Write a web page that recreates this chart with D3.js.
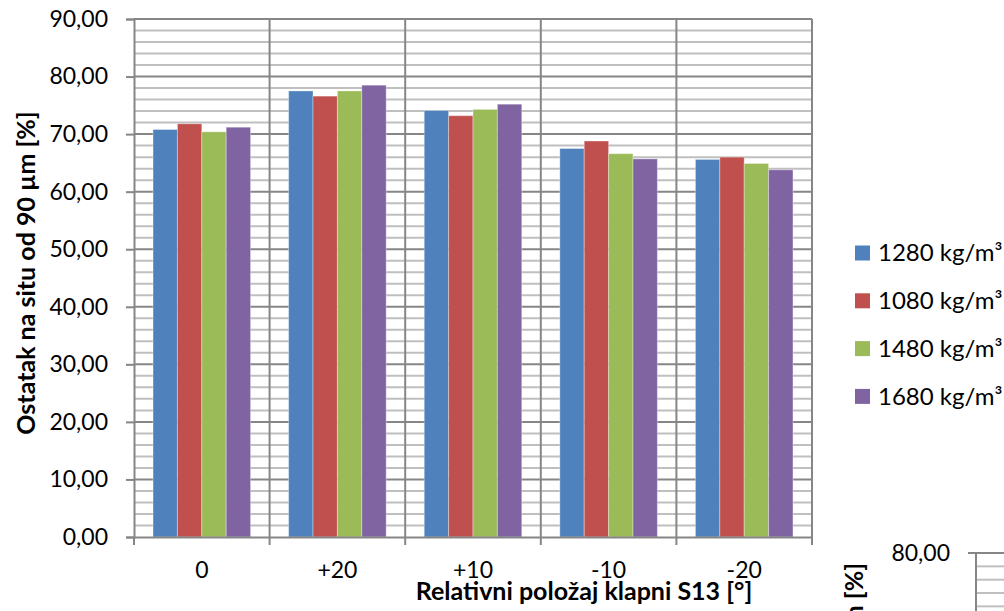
<!DOCTYPE html>
<html>
<head>
<meta charset="utf-8">
<script src="https://cdn.jsdelivr.net/npm/d3@7/dist/d3.min.js"></script>
<style>
  html, body { margin: 0; padding: 0; background: #fff; }
  svg { display: block; font-family: Lato, "Open Sans", sans-serif; }
</style>
</head>
<body>
<svg id="chart" width="1004" height="611"></svg>
<script>
// ---- data ----
const categories = ["0", "+20", "+10", "-10", "-20"];
const seriesNames = ["1280 kg/m³", "1080 kg/m³", "1480 kg/m³", "1680 kg/m³"];
const s1280 = [70.8, 77.5, 74.1, 67.5, 65.6];
const s1080 = [71.8, 76.6, 73.2, 68.8, 66.0];
const s1480 = [70.4, 77.5, 74.3, 66.6, 64.9];
const s1680 = [71.2, 78.5, 75.2, 65.7, 63.8];
const seriesValues = [s1280, s1080, s1480, s1680];
const seriesColors = ["#4f81bd", "#c0504d", "#9bbb59", "#8064a2"];
const yTicks = [0, 10, 20, 30, 40, 50, 60, 70, 80, 90];
const xTitle = "Relativni položaj klapni S13 [°]";
const yTitle = "Ostatak na situ od 90 µm [%]";

const svg = d3.select("#chart");
const fmt = v => d3.format(".2f")(v).replace(".", ",");

const L = 134, R = 812, T = 19, B = 537;
const y = d3.scaleLinear().domain([0, 90]).range([B, T]);
const x0 = d3.scaleBand().domain(categories).range([L, R]).paddingInner(0).paddingOuter(0);
const x1 = d3.scaleBand().domain(seriesNames).range([0, x0.bandwidth()]).paddingInner(0).paddingOuter(0.78);

// minor gridlines
const minor = d3.range(0, 91, 2).filter(v => v % 10 !== 0);
svg.append("g").selectAll("line").data(minor).join("line")
  .attr("x1", L).attr("x2", R)
  .attr("y1", d => y(d)).attr("y2", d => y(d))
  .attr("stroke", "#bfbfbf").attr("stroke-width", 2);

// major gridlines
svg.append("g").selectAll("line").data(yTicks.filter(v => v > 0)).join("line")
  .attr("x1", L).attr("x2", R)
  .attr("y1", d => y(d)).attr("y2", d => y(d))
  .attr("stroke", "#868686").attr("stroke-width", 2);

// vertical gridlines at category boundaries
const bounds = categories.map(c => x0(c)).concat([R]);
svg.append("g").selectAll("line").data(bounds.slice(1)).join("line")
  .attr("x1", d => d).attr("x2", d => d)
  .attr("y1", T).attr("y2", B)
  .attr("stroke", "#868686").attr("stroke-width", 2);

// bars
const groups = svg.append("g").selectAll("g").data(categories).join("g")
  .attr("transform", c => `translate(${x0(c)},0)`);
groups.selectAll("rect").data((c, ci) => seriesNames.map((s, si) => ({s, si, v: seriesValues[si][ci]})))
  .join("rect")
  .attr("x", d => x1(d.s))
  .attr("width", x1.bandwidth())
  .attr("y", d => y(d.v))
  .attr("height", d => B - y(d.v))
  .attr("fill", d => seriesColors[d.si])
  .attr("stroke", "rgba(255,255,255,0.35)").attr("stroke-width", 1);

// y axis
const yAxis = svg.append("g").attr("transform", `translate(${L},0)`)
  .call(d3.axisLeft(y).tickValues(yTicks).tickSize(8).tickPadding(18).tickFormat(fmt));
yAxis.select(".domain").attr("stroke", "#868686").attr("stroke-width", 2);
yAxis.selectAll(".tick line").attr("stroke", "#868686").attr("stroke-width", 2);
yAxis.selectAll(".tick text").attr("font-size", 23).attr("fill", "#000")
  .attr("font-family", "Lato, 'Open Sans', sans-serif");

// x axis
const xAxis = svg.append("g").attr("transform", `translate(0,${B})`)
  .call(d3.axisBottom(x0).tickSize(0).tickPadding(25));
xAxis.select(".domain").attr("stroke", "#868686").attr("stroke-width", 2);
xAxis.selectAll(".tick text").attr("font-size", 23).attr("fill", "#000")
  .attr("font-family", "Lato, 'Open Sans', sans-serif");
svg.append("g").selectAll("line").data(bounds).join("line")
  .attr("x1", d => d).attr("x2", d => d)
  .attr("y1", B).attr("y2", B + 8)
  .attr("stroke", "#868686").attr("stroke-width", 2);

// titles
svg.append("text").attr("x", 584).attr("y", 600).attr("text-anchor", "middle")
  .attr("font-size", 25).attr("font-weight", "bold").text(xTitle);
svg.append("text").attr("transform", "translate(35,273) rotate(-90)").attr("text-anchor", "middle")
  .attr("font-size", 25).attr("font-weight", "bold").text(yTitle);

// legend
const leg = svg.append("g").selectAll("g").data(seriesNames).join("g")
  .attr("transform", (d, i) => `translate(855,${253 + i * 47.8})`);
leg.append("rect").attr("x", 0).attr("y", -7.5).attr("width", 15).attr("height", 15)
  .attr("fill", (d, i) => seriesColors[i]);
leg.append("text").attr("x", 23).attr("y", 0).attr("dy", "0.35em")
  .attr("font-size", 24).text(d => d);

// fragment of the next chart (bottom-right)
const y2 = d3.scaleLinear().domain([70, 80]).range([619.7, 553]);
svg.append("g").selectAll("line").data([72, 74, 76, 78]).join("line")
  .attr("x1", 976).attr("x2", 1004)
  .attr("y1", d => y2(d)).attr("y2", d => y2(d))
  .attr("stroke", "#bfbfbf").attr("stroke-width", 2);
svg.append("line").attr("x1", 968).attr("x2", 1004).attr("y1", y2(80)).attr("y2", y2(80))
  .attr("stroke", "#868686").attr("stroke-width", 2);
svg.append("line").attr("x1", 976).attr("x2", 976).attr("y1", y2(80)).attr("y2", 611)
  .attr("stroke", "#868686").attr("stroke-width", 2);
svg.append("text").attr("x", 950).attr("y", y2(80)).attr("dy", "0.35em").attr("text-anchor", "end")
  .attr("font-size", 23).text(fmt(80));
svg.append("text").attr("transform", "translate(863,563) rotate(-90)").attr("text-anchor", "end")
  .attr("font-size", 25).attr("font-weight", "bold").text(yTitle);
</script>
</body>
</html>
